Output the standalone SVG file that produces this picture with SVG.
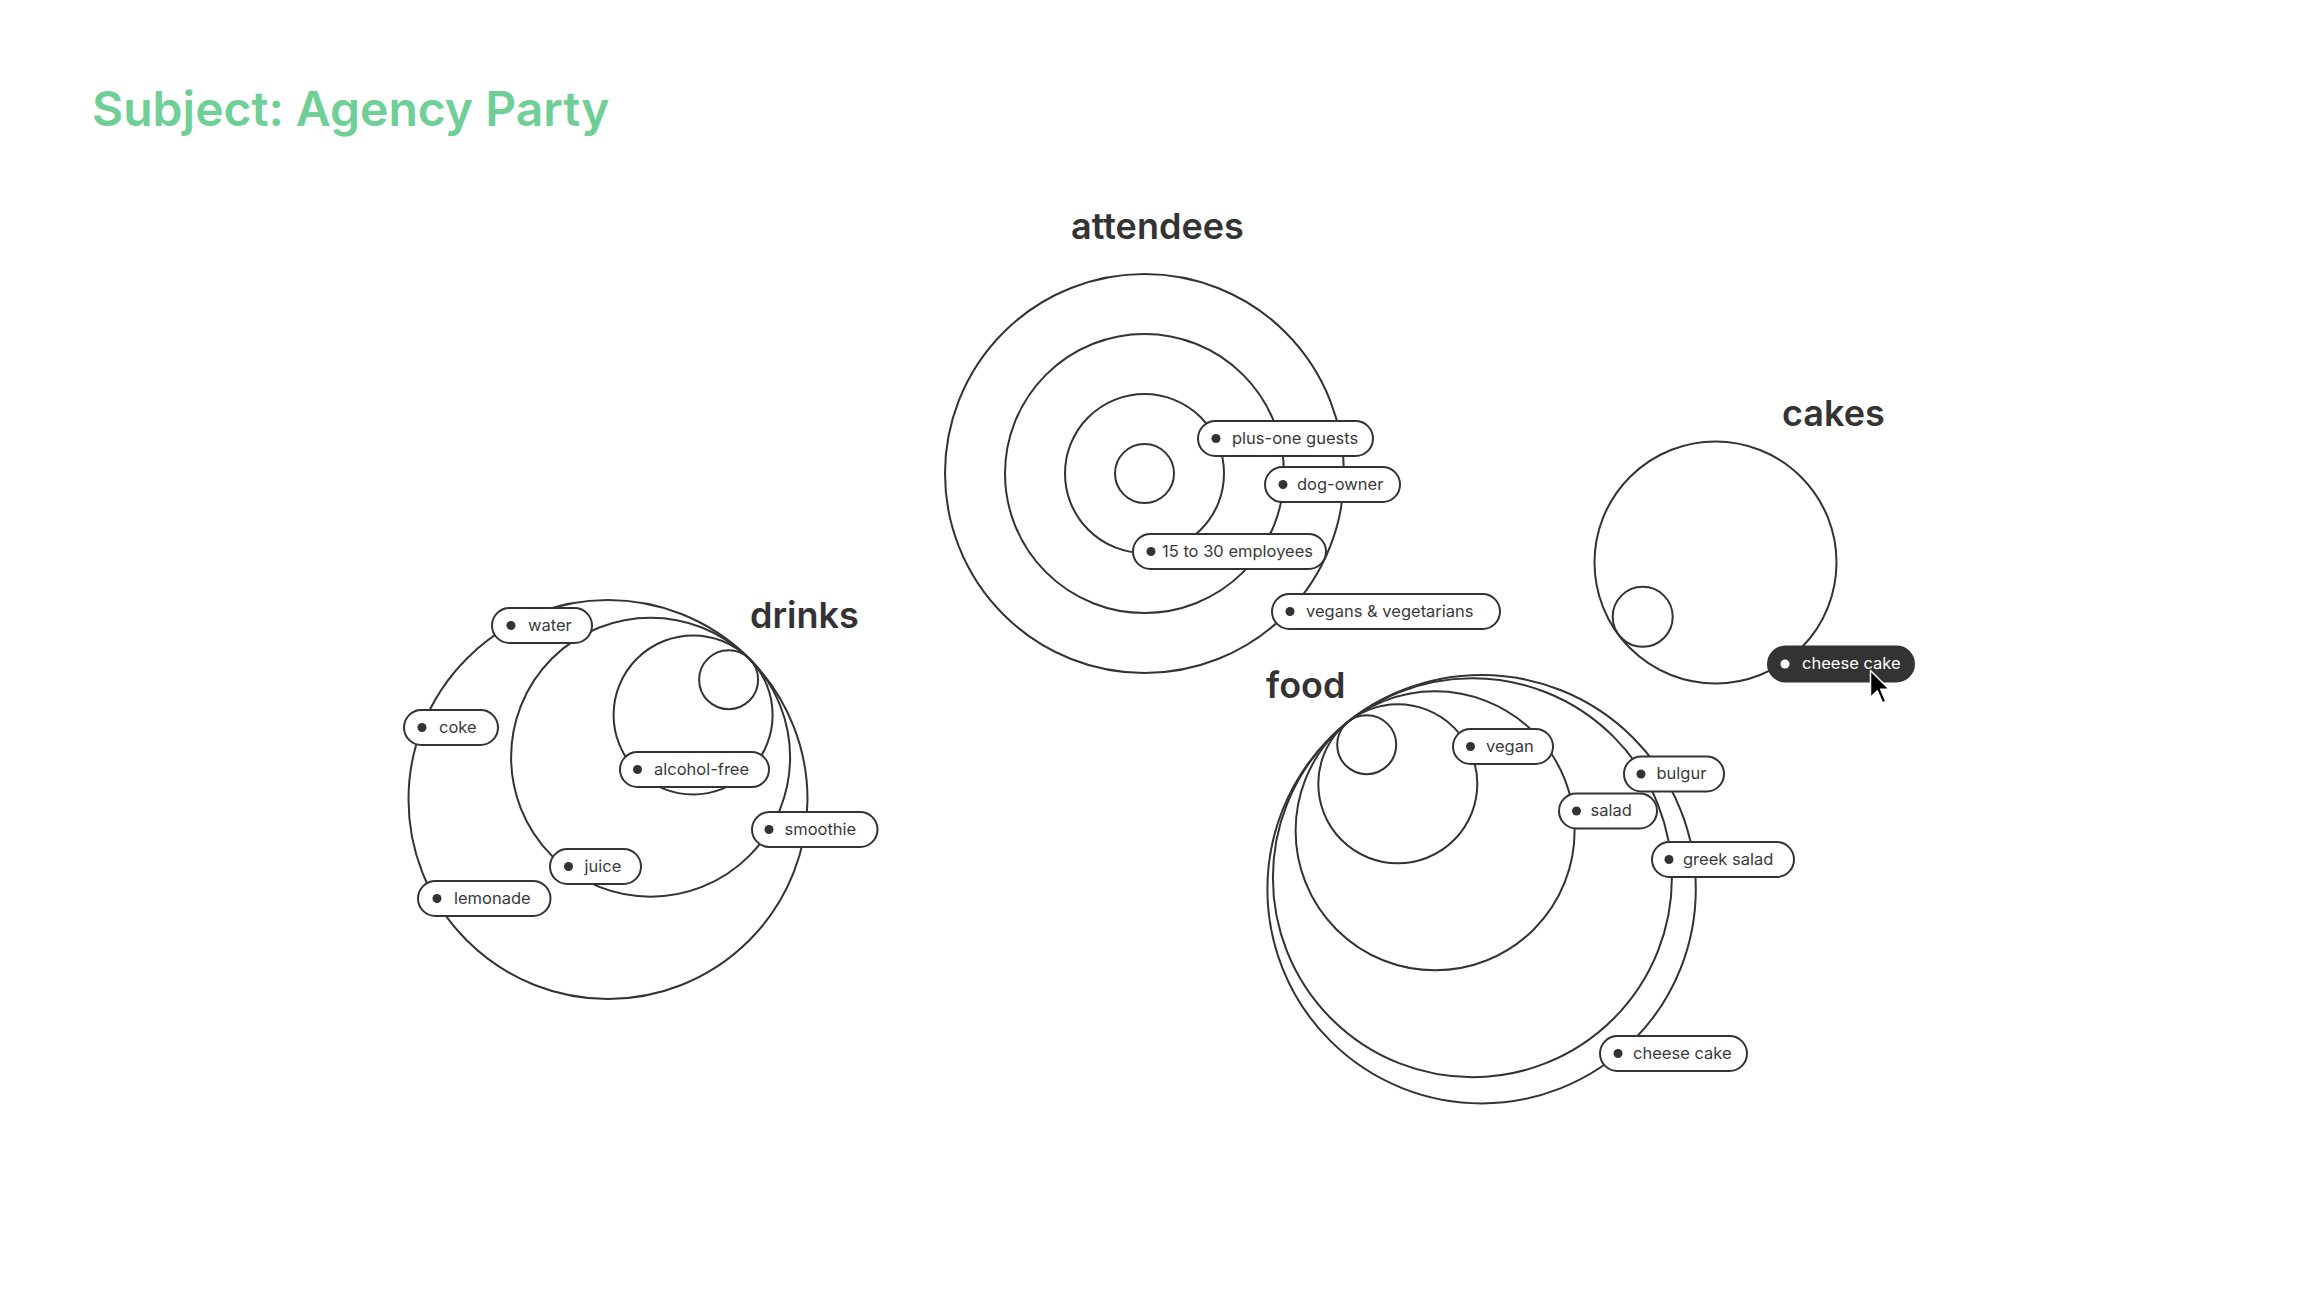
<svg xmlns="http://www.w3.org/2000/svg" width="2318" height="1304" viewBox="0 0 2318 1304">
<style>
.ring{fill:none;stroke:#333;stroke-width:2}
.pill{fill:#fff;stroke:#333;stroke-width:2}
.pill-dark{fill:#333;stroke:#333;stroke-width:2}
.dot{fill:#333}
.dot-w{fill:#fff}
.lbl{font-family:Inter,"Noto Sans","Liberation Sans",sans-serif;font-size:16.5px;fill:#3a3a3a}
.lbl-w{font-family:Inter,"Noto Sans","Liberation Sans",sans-serif;font-size:16.5px;fill:#fff}
.head{font-family:Inter,"Noto Sans","Liberation Sans",sans-serif;font-size:36px;font-weight:600;fill:#333}
.title{font-family:Inter,"Noto Sans","Liberation Sans",sans-serif;font-size:48px;font-weight:600;fill:#6fcf97}
</style>
<rect width="2318" height="1304" fill="#fff"/>
<text id="title" class="title" x="92" y="126">Subject: Agency Party</text>

<g id="connectors"></g>

<g id="attendees">
<text class="head" x="1071" y="239">attendees</text>
<circle class="ring" cx="1144.5" cy="473.5" r="199.5"/>
<circle class="ring" cx="1144.5" cy="473.5" r="139.5"/>
<circle class="ring" cx="1144.5" cy="473.5" r="79.5"/>
<circle class="ring" cx="1144.5" cy="473.5" r="29.5"/>
</g>

<g id="cakes">
<text class="head" x="1782" y="426">cakes</text>
<circle class="ring" cx="1715.5" cy="562.5" r="121"/>
<circle class="ring" cx="1642.7" cy="616.8" r="30"/>
</g>

<g id="drinks">
<text class="head" x="750" y="628">drinks</text>
<circle class="ring" cx="608" cy="799.5" r="199.5"/>
<circle class="ring" cx="650.6" cy="757.2" r="139.5"/>
<circle class="ring" cx="693.1" cy="714.9" r="79.5"/>
<circle class="ring" cx="728.6" cy="679.7" r="29.5"/>
</g>

<g id="food">
<text class="head" x="1266" y="698">food</text>
<circle class="ring" cx="1481.6" cy="889.2" r="214.2"/>
<circle class="ring" cx="1472.4" cy="877.7" r="199.5"/>
<circle class="ring" cx="1435.1" cy="830.8" r="139.5"/>
<circle class="ring" cx="1397.8" cy="783.8" r="79.5"/>
<circle class="ring" cx="1366.7" cy="744.7" r="29.5"/>
</g>

<g id="pill-plus-one"><rect class="pill" x="1198" y="421" width="175" height="35" rx="17.5"/><circle class="dot" cx="1216" cy="438.5" r="4.5"/><text class="lbl" x="1232" y="443.5">plus-one guests</text></g>
<g id="pill-dog-owner"><rect class="pill" x="1265" y="467" width="135" height="35" rx="17.5"/><circle class="dot" cx="1283" cy="484.5" r="4.5"/><text class="lbl" x="1297" y="489.5">dog-owner</text></g>
<g id="pill-employees"><rect class="pill" x="1133" y="534" width="193" height="35" rx="17.5"/><circle class="dot" cx="1151" cy="551.5" r="4.5"/><text class="lbl" x="1162" y="556.5">15 to 30 employees</text></g>
<g id="pill-vegans"><rect class="pill" x="1272" y="594" width="228" height="35" rx="17.5"/><circle class="dot" cx="1290" cy="611.5" r="4.5"/><text class="lbl" x="1306" y="616.5">vegans &amp; vegetarians</text></g>

<g id="pill-cakes-cheese"><rect class="pill-dark" x="1768" y="646.5" width="146" height="35" rx="17.5"/><circle class="dot-w" cx="1785" cy="664" r="4.5"/><text class="lbl-w" x="1802" y="669">cheese cake</text></g>

<g id="pill-water"><rect class="pill" x="492" y="608" width="100" height="35" rx="17.5"/><circle class="dot" cx="511" cy="625.5" r="4.5"/><text class="lbl" x="528" y="630.5">water</text></g>
<g id="pill-coke"><rect class="pill" x="404" y="710" width="94" height="35" rx="17.5"/><circle class="dot" cx="422" cy="727.5" r="4.5"/><text class="lbl" x="439" y="732.5">coke</text></g>
<g id="pill-alcohol-free"><rect class="pill" x="620" y="752" width="149" height="35" rx="17.5"/><circle class="dot" cx="637.5" cy="769.5" r="4.5"/><text class="lbl" x="654" y="774.5">alcohol-free</text></g>
<g id="pill-smoothie"><rect class="pill" x="752" y="812" width="125.5" height="35" rx="17.5"/><circle class="dot" cx="769" cy="829.5" r="4.5"/><text class="lbl" x="784.5" y="834.5">smoothie</text></g>
<g id="pill-juice"><rect class="pill" x="550" y="849" width="91" height="35" rx="17.5"/><circle class="dot" cx="568.5" cy="866.5" r="4.5"/><text class="lbl" x="584.5" y="871.5">juice</text></g>
<g id="pill-lemonade"><rect class="pill" x="418" y="881" width="132.5" height="35" rx="17.5"/><circle class="dot" cx="437" cy="898.5" r="4.5"/><text class="lbl" x="454" y="903.5">lemonade</text></g>

<g id="pill-vegan"><rect class="pill" x="1453" y="729" width="100" height="35" rx="17.5"/><circle class="dot" cx="1470.5" cy="746.5" r="4.5"/><text class="lbl" x="1486" y="751.5">vegan</text></g>
<g id="pill-bulgur"><rect class="pill" x="1624" y="756.5" width="100" height="35" rx="17.5"/><circle class="dot" cx="1641" cy="774" r="4.5"/><text class="lbl" x="1656.5" y="779">bulgur</text></g>
<g id="pill-salad"><rect class="pill" x="1559" y="793.5" width="98" height="35" rx="17.5"/><circle class="dot" cx="1576.5" cy="811" r="4.5"/><text class="lbl" x="1590.5" y="816">salad</text></g>
<g id="pill-greek-salad"><rect class="pill" x="1652" y="842" width="142" height="35" rx="17.5"/><circle class="dot" cx="1669" cy="859.5" r="4.5"/><text class="lbl" x="1683" y="864.5">greek salad</text></g>
<g id="pill-food-cheese"><rect class="pill" x="1600" y="1036" width="147" height="35" rx="17.5"/><circle class="dot" cx="1618" cy="1053.5" r="4.5"/><text class="lbl" x="1633" y="1058.5">cheese cake</text></g>

<g id="cursor"><path d="M1870.5 670.5 L1870.5 697.5 L1877.3 690.9 L1882.4 702.8 L1885.8 701.1 L1880.7 689.2 L1889.2 689.2 Z" fill="#000" stroke="#fff" stroke-width="1.5" stroke-linejoin="round"/></g>
</svg>
